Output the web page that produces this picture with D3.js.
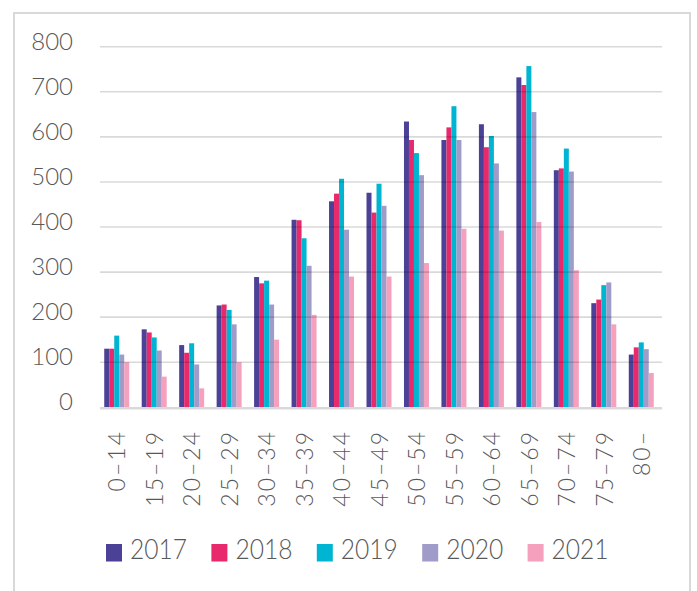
<!DOCTYPE html>
<html>
<head>
<meta charset="utf-8">
<script src="https://cdn.jsdelivr.net/npm/d3@7"></script>
<style>
  body { margin: 0; background: #fff; }
  text { font-family: Lato, "Open Sans", sans-serif; fill: #595959; font-weight: 300; }
</style>
</head>
<body>
<div id="chart"></div>
<script>
var ageGroups = ["0\u201314", "15\u201319", "20\u201324", "25\u201329", "30\u201334", "35\u201339", "40\u201344",
                 "45\u201349", "50\u201354", "55\u201359", "60\u201364", "65\u201369", "70\u201374", "75\u201379", "80\u2013"];
var years = ["2017", "2018", "2019", "2020", "2021"];
var v2017 = [130, 173, 138, 226, 289, 416, 457, 476, 634, 593, 628, 732, 526, 231, 117];
var v2018 = [130, 166, 121, 228, 275, 415, 474, 432, 593, 621, 577, 715, 530, 239, 133];
var v2019 = [159, 155, 142, 216, 281, 375, 507, 496, 564, 668, 602, 757, 574, 271, 144];
var v2020 = [117, 126, 95, 184, 228, 314, 394, 447, 515, 593, 541, 655, 523, 277, 129];
var v2021 = [100, 68, 42, 100, 150, 205, 290, 290, 320, 396, 392, 411, 304, 184, 76];
var yTicks = [0, 100, 200, 300, 400, 500, 600, 700, 800];
var colors = ["#4b4196", "#e8296b", "#00b5d1", "#a09cc9", "#f5a0bc"];

var series = [v2017, v2018, v2019, v2020, v2021];

var width = 697, height = 591;

var svg = d3.select("#chart")
  .append("svg")
    .attr("width", width)
    .attr("height", height);

// outer frame (bottom edge runs off the picture)
svg.append("path")
  .attr("d", "M14,600 L14,13 L690,13 L690,600")
  .attr("fill", "none")
  .attr("stroke", "#d9d9d9")
  .attr("stroke-width", 2);

var x = d3.scaleBand()
  .domain(ageGroups)
  .range([98, 660])
  .paddingInner(0.333)
  .paddingOuter(0.1665);

var xs = d3.scaleBand()
  .domain(years)
  .range([0, x.bandwidth()]);

var y = d3.scaleLinear()
  .domain([0, 800])
  .range([407.3, 46.7]);

// bars
var groups = svg.append("g")
  .selectAll("g")
  .data(ageGroups)
  .enter().append("g")
    .attr("transform", function(d) { return "translate(" + x(d) + ",0)"; });

groups.selectAll("rect")
  .data(function(d, i) {
    return years.map(function(yr, k) { return {year: yr, value: series[k][i], k: k}; });
  })
  .enter().append("rect")
    .attr("x", function(d) { return xs(d.year); })
    .attr("width", xs.bandwidth())
    .attr("y", function(d) { return y(d.value); })
    .attr("height", function(d) { return y(0) - y(d.value); })
    .attr("fill", function(d) { return colors[d.k]; });

// gridlines drawn over the bars, slightly see-through
svg.append("g")
  .selectAll("line")
  .data(yTicks.filter(function(t) { return t > 0; }))
  .enter().append("line")
    .attr("x1", 100)
    .attr("x2", 662)
    .attr("y1", function(d) { return y(d); })
    .attr("y2", function(d) { return y(d); })
    .attr("stroke", "rgba(0,0,0,0.15)")
    .attr("stroke-width", 1.6);

// baseline
svg.append("line")
  .attr("x1", 100).attr("x2", 662)
  .attr("y1", y(0) + 1).attr("y2", y(0) + 1)
  .attr("stroke", "#d9d9d9")
  .attr("stroke-width", 2.5);

// y axis labels
var yAxis = d3.axisLeft(y).tickValues(yTicks).tickSize(0).tickPadding(0);
var gy = svg.append("g")
  .attr("transform", "translate(73,0)")
  .call(yAxis);
gy.select(".domain").remove();
gy.selectAll("text")
  .attr("font-size", 24)
  .attr("font-family", "Lato, sans-serif")
  .attr("fill", "#595959")
  .attr("dy", "0.1em");

// category labels, rotated
var xAxis = d3.axisBottom(x).tickSize(0).tickPadding(0);
var gx = svg.append("g")
  .attr("transform", "translate(0,430)")
  .call(xAxis);
gx.select(".domain").remove();
gx.selectAll("text")
  .attr("font-size", 23)
  .attr("font-family", "Lato, sans-serif")
  .attr("fill", "#595959")
  .attr("letter-spacing", 2)
  .attr("text-anchor", "end")
  .attr("transform", "rotate(-90)")
  .attr("x", 0)
  .attr("y", 0)
  .attr("dx", 0)
  .attr("dy", "0.38em");

// legend
var legend = svg.append("g")
  .selectAll("g")
  .data(years)
  .enter().append("g")
    .attr("transform", function(d, i) { return "translate(" + (106 + i * 105.4) + ",544)"; });

legend.append("rect")
  .attr("width", 16)
  .attr("height", 17.5)
  .attr("fill", function(d, i) { return colors[i]; });

legend.append("text")
  .attr("x", 24)
  .attr("y", 14.5)
  .attr("font-size", 27)
  .attr("textLength", 57)
  .attr("lengthAdjust", "spacingAndGlyphs")
  .text(function(d) { return d; });
</script>
</body>
</html>
